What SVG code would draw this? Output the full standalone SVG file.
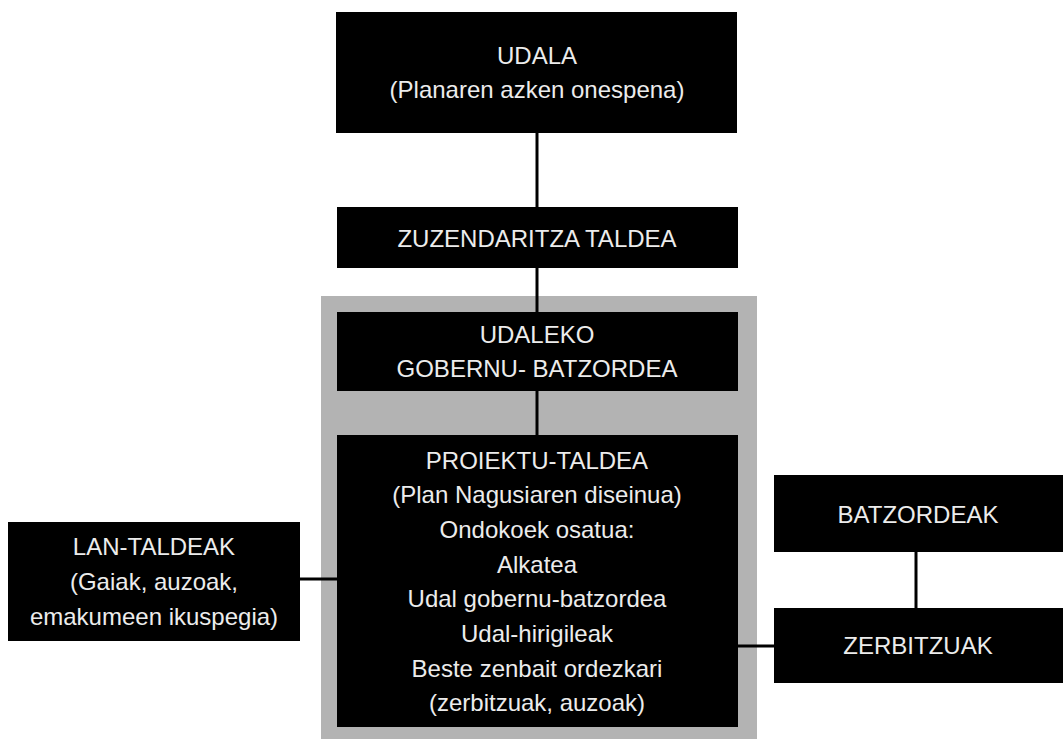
<svg xmlns="http://www.w3.org/2000/svg" width="1063" height="740" viewBox="0 0 1063 740">
<style>
.box{fill:#000}
.t{font-family:"Liberation Sans",Arial,sans-serif;font-size:24px;fill:#ececec;text-anchor:middle}
.c{stroke:#000;stroke-width:3;fill:none}
</style>
<rect width="1063" height="740" fill="#fff"/>
<rect x="321" y="296" width="436" height="443" fill="#b3b3b3"/>
<g id="connectors">
<line class="c" x1="537" y1="133" x2="537" y2="312"/>
<line class="c" x1="537" y1="391" x2="537" y2="435"/>
<line class="c" x1="300" y1="579" x2="337" y2="579"/>
<line class="c" x1="738" y1="646" x2="774" y2="646"/>
<line class="c" x1="916" y1="552" x2="916" y2="608"/>
</g>
<g id="udala">
<rect class="box" x="336" y="12" width="401" height="121"/>
<text class="t" x="537" y="64">UDALA</text>
<text class="t" x="537" y="98">(Planaren azken onespena)</text>
</g>
<g id="zuzendaritza">
<rect class="box" x="337" y="207" width="401" height="61"/>
<text class="t" x="537" y="247">ZUZENDARITZA TALDEA</text>
</g>
<g id="udaleko">
<rect class="box" x="337" y="312" width="401" height="79"/>
<text class="t" x="537" y="343">UDALEKO</text>
<text class="t" x="537" y="377">GOBERNU- BATZORDEA</text>
</g>
<g id="proiektu">
<rect class="box" x="337" y="435" width="401" height="292"/>
<text class="t" x="537" y="469">PROIEKTU-TALDEA</text>
<text class="t" x="537" y="503">(Plan Nagusiaren diseinua)</text>
<text class="t" x="537" y="538">Ondokoek osatua:</text>
<text class="t" x="537" y="573">Alkatea</text>
<text class="t" x="537" y="607">Udal gobernu-batzordea</text>
<text class="t" x="537" y="642">Udal-hirigileak</text>
<text class="t" x="537" y="677">Beste zenbait ordezkari</text>
<text class="t" x="537" y="711">(zerbitzuak, auzoak)</text>
</g>
<g id="lantaldeak">
<rect class="box" x="8" y="522" width="292" height="119"/>
<text class="t" x="154" y="555">LAN-TALDEAK</text>
<text class="t" x="154" y="590">(Gaiak, auzoak,</text>
<text class="t" x="154" y="625">emakumeen ikuspegia)</text>
</g>
<g id="batzordeak">
<rect class="box" x="774" y="475" width="289" height="77"/>
<text class="t" x="918" y="523">BATZORDEAK</text>
</g>
<g id="zerbitzuak">
<rect class="box" x="774" y="608" width="289" height="75"/>
<text class="t" x="918" y="654">ZERBITZUAK</text>
</g>
</svg>
